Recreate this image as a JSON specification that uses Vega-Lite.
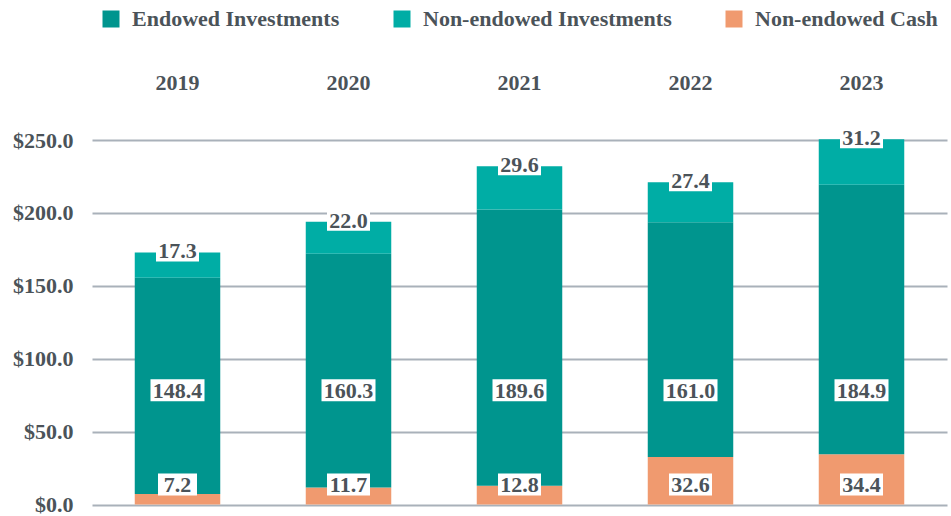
{
  "$schema": "https://vega.github.io/schema/vega-lite/v6.json",
  "autosize": {"type": "none"},
  "padding": {"left": 92, "top": 140, "right": 4, "bottom": 11.5},
  "width": 855,
  "height": 364.5,
  "config": {
    "view": {"stroke": null},
    "font": "Liberation Serif",
    "text": {"font": "Liberation Serif"}
  },
  "data": {
    "values": [
      {"year": "2019", "category": "Non-endowed Cash", "value": 7.2},
      {"year": "2019", "category": "Endowed Investments", "value": 148.4},
      {"year": "2019", "category": "Non-endowed Investments", "value": 17.3},
      {"year": "2020", "category": "Non-endowed Cash", "value": 11.7},
      {"year": "2020", "category": "Endowed Investments", "value": 160.3},
      {"year": "2020", "category": "Non-endowed Investments", "value": 22.0},
      {"year": "2021", "category": "Non-endowed Cash", "value": 12.8},
      {"year": "2021", "category": "Endowed Investments", "value": 189.6},
      {"year": "2021", "category": "Non-endowed Investments", "value": 29.6},
      {"year": "2022", "category": "Non-endowed Cash", "value": 32.6},
      {"year": "2022", "category": "Endowed Investments", "value": 161.0},
      {"year": "2022", "category": "Non-endowed Investments", "value": 27.4},
      {"year": "2023", "category": "Non-endowed Cash", "value": 34.4},
      {"year": "2023", "category": "Endowed Investments", "value": 184.9},
      {"year": "2023", "category": "Non-endowed Investments", "value": 31.2}
    ]
  },
  "transform": [
    {"calculate": "indexof(['Non-endowed Cash','Endowed Investments','Non-endowed Investments'], datum.category)", "as": "stackOrder"},
    {"joinaggregate": [{"op": "sum", "field": "value", "as": "total"}], "groupby": ["year"]},
    {"calculate": "datum.category === 'Non-endowed Cash' ? 12.4 : (datum.category === 'Endowed Investments' ? 77 : datum.total)", "as": "labelY"},
    {"calculate": "format(datum.value, '.1f')", "as": "label"},
    {"calculate": "max(39, (length(datum.label) - 1) * 11 + 10)", "as": "boxW"}
  ],
  "encoding": {
    "x": {
      "field": "year",
      "type": "nominal",
      "scale": {"paddingInner": 0.5, "paddingOuter": 0.25},
      "axis": {
        "orient": "top",
        "title": null,
        "domain": false,
        "ticks": false,
        "labelAngle": 0,
        "labelPadding": 46,
        "labelFont": "Liberation Serif",
        "labelFontWeight": "bold",
        "labelFontSize": 22,
        "labelColor": "#4b5359"
      }
    }
  },
  "layer": [
    {
      "mark": {"type": "bar"},
      "encoding": {
        "y": {
          "field": "value",
          "type": "quantitative",
          "stack": "zero",
          "scale": {"domain": [0, 250], "nice": false},
          "axis": {
            "title": null,
            "values": [0, 50, 100, 150, 200, 250],
            "format": "$.1f",
            "domain": false,
            "ticks": false,
            "labelPadding": 19,
            "labelFont": "Liberation Serif",
            "labelFontWeight": "bold",
            "labelFontSize": 22,
            "labelColor": "#4b5359",
            "grid": true,
            "gridColor": "#a9b1ba",
            "gridWidth": 2
          }
        },
        "color": {
          "field": "category",
          "type": "nominal",
          "scale": {
            "domain": ["Endowed Investments", "Non-endowed Investments", "Non-endowed Cash"],
            "range": ["#00958e", "#00ada5", "#f09a6f"]
          },
          "legend": {
            "title": null,
            "orient": "none",
            "direction": "horizontal",
            "legendX": 8,
            "legendY": -132,
            "padding": 0,
            "symbolType": "square",
            "symbolSize": 289,
            "symbolStrokeWidth": 0,
            "symbolOpacity": 1,
            "labelOffset": 10,
            "columnPadding": 51,
            "labelFont": "Liberation Serif",
            "labelFontWeight": "bold",
            "labelFontSize": 22,
            "labelColor": "#4b5359",
            "labelLimit": 400
          }
        },
        "order": {"field": "stackOrder", "type": "quantitative"}
      }
    },
    {
      "mark": {"type": "tick", "color": "white", "opacity": 1, "thickness": 22, "yOffset": -2, "orient": "horizontal"},
      "encoding": {
        "y": {"field": "labelY", "type": "quantitative"},
        "size": {"field": "boxW", "type": "quantitative", "scale": null}
      }
    },
    {
      "mark": {"type": "text", "font": "Liberation Serif", "fontWeight": "bold", "fontSize": 22, "color": "#4b5359", "baseline": "middle", "align": "center", "dy": -1},
      "encoding": {
        "y": {"field": "labelY", "type": "quantitative"},
        "text": {"field": "label"}
      }
    }
  ]
}
